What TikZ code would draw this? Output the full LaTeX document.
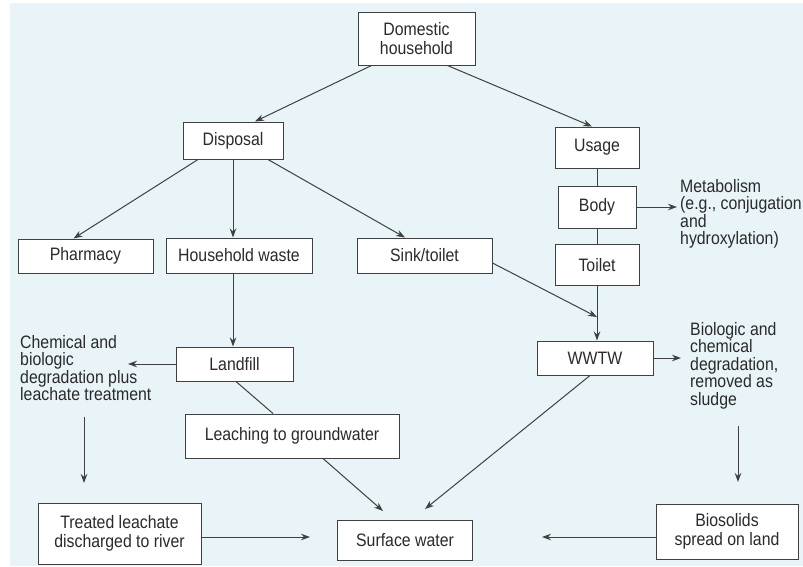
\documentclass[tikz,border=0pt]{standalone}
\usepackage{fontspec}
\setmainfont{Liberation Sans}[FakeStretch=0.88]
\usetikzlibrary{arrows.meta}
\definecolor{bg}{HTML}{E8F4F8}
\definecolor{lncol}{HTML}{404040}
\definecolor{tx}{HTML}{2A2A2A}
\begin{document}
\begin{tikzpicture}[x=1pt,y=-1pt,
  box/.style={draw=lncol, fill=white, line width=1pt, text=tx, inner sep=0pt, align=center,
    font=\fontsize{18}{18.5}\selectfont},
  lbl/.style={text=tx, inner sep=0pt, align=left, anchor=north west,
    font=\fontsize{18}{17.5}\selectfont},
  arr/.style={draw=lncol, line width=1pt, -{Stealth[length=9pt,width=6.5pt]}},
  plain/.style={draw=lncol, line width=1pt}]
\useasboundingbox (0,0) rectangle (803,566);
\fill[white] (0,0) rectangle (803,566);
\fill[bg] (10,3) rectangle (803,566);

\node[box, minimum width=117pt, minimum height=53pt] (dom) at (416.5,38.5) {Domestic\\household};
\node[box, minimum width=100pt, minimum height=37pt] (disp) at (233,140.5) {Disposal};
\node[box, minimum width=84pt, minimum height=41pt] (usage) at (597,147.5) {Usage};
\node[box, minimum width=78pt, minimum height=42pt] (body) at (597,207) {Body};
\node[box, minimum width=84pt, minimum height=41pt] (toilet) at (597,265) {Toilet};
\node[box, minimum width=135pt, minimum height=34pt] (pharm) at (85.5,256) {Pharmacy};
\node[box, minimum width=146pt, minimum height=35pt] (hw) at (239,255.5) {Household waste};
\node[box, minimum width=135pt, minimum height=35pt] (sink) at (424.5,255.5) {Sink/toilet};
\node[box, minimum width=117pt, minimum height=34pt] (landfill) at (234.5,364) {Landfill};
\node[box, minimum width=214pt, minimum height=44pt] (leach) at (292,436) {Leaching to groundwater};
\node[box, minimum width=116pt, minimum height=34pt] (wwtw) at (595,358) {WWTW};
\node[box, minimum width=163pt, minimum height=61pt] (treated) at (119.5,533.5) {Treated leachate\\discharged to river};
\node[box, minimum width=135pt, minimum height=40pt] (surface) at (405,540) {Surface water};
\node[box, minimum width=142pt, minimum height=55pt] (bio) at (727,531.5) {Biosolids\\spread on land};

\node[lbl] (chem) at (20,335) {Chemical and\\biologic\\degradation plus\\leachate treatment};
\node[lbl] (metab) at (680,179) {Metabolism\\(e.g., conjugation\\and\\hydroxylation)};
\node[lbl] (biot) at (690,322) {Biologic and\\chemical\\degradation,\\removed as\\sludge};

\coordinate (j) at (597,317);
\coordinate (chemtip) at (128,364);
\coordinate (c1) at (84,417);
\coordinate (c2) at (84,483);
\coordinate (b1) at (738,426);
\coordinate (b2) at (738,482);
\coordinate (sw1) at (383,511);
\coordinate (sw2) at (425,509);
\coordinate (tl) at (310,537);
\coordinate (bl) at (542,537);
\coordinate (mtip) at (677,207);
\coordinate (btip) at (681,358);

\draw[arr] ([xshift=14pt]dom.south west) -- ([xshift=22pt]disp.north);
\draw[arr] ([xshift=-28pt]dom.south east) -- ([xshift=-5pt]usage.north);
\draw[arr] ([xshift=-35pt]disp.south) -- ([xshift=-12pt]pharm.north);
\draw[arr] (disp.south) -- (disp.south |- hw.north);
\draw[arr] ([xshift=35pt]disp.south) -- ([xshift=-19.5pt]sink.north);
\draw[arr] (hw.south -| disp.south) -- (landfill.north -| disp.south);
\draw[plain] (usage.south) -- (body.north);
\draw[plain] (body.south) -- (toilet.north);
\draw[arr] (toilet.south) -- (toilet.south |- wwtw.north);
\draw[arr] ([yshift=-7.5pt]sink.east) -- (j);
\draw[arr] (body.east) -- (mtip);
\draw[arr] (landfill.west) -- (chemtip);
\draw[plain] ([xshift=1.5pt]landfill.south) -- ([xshift=-19pt]leach.north);
\draw[arr] ([xshift=31pt]leach.south) -- (sw1);
\draw[arr] ([xshift=-5pt]wwtw.south) -- (sw2);
\draw[arr] (wwtw.east) -- (btip);
\draw[arr] (c1) -- (c2);
\draw[arr] (b1) -- (b2);
\draw[arr] ([yshift=-3.5pt]treated.east) -- (tl);
\draw[arr] ([yshift=-5.5pt]bio.west) -- (bl);
\end{tikzpicture}
\end{document}
